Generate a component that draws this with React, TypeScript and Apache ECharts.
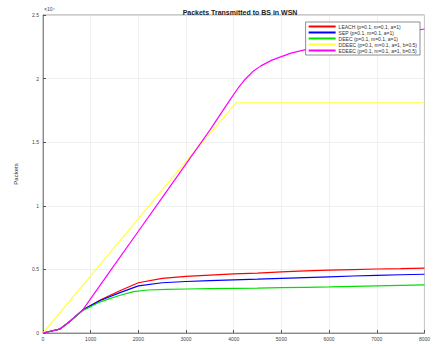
import React, { useEffect, useRef } from "react";
import * as echarts from "echarts";

// Rounds simulated (x) and cumulative packets delivered to the base station (y)
const xTicks = [0, 1000, 2000, 3000, 4000, 5000, 6000, 7000, 8000];
const yTicks = [0, 5000, 10000, 15000, 20000, 25000];

const seriesNames = [
  "LEACH (p=0.1, m=0.1, a=1)",
  "SEP (p=0.1, m=0.1, a=1)",
  "DEEC (p=0.1, m=0.1, a=1)",
  "DDEEC (p=0.1, m=0.1, a=1, b=0.5)",
  "EDEEC (p=0.1, m=0.1, a=1, b=0.5)",
];
const seriesColors = ["#ff0000", "#0000ff", "#00e000", "#ffff40", "#ff00ff"];

const redData: [number, number][] = [
  [0, 0], [350, 300], [560, 900], [830, 1800], [1200, 2600], [1600, 3300],
  [2000, 3950], [2500, 4300], [3000, 4450], [3500, 4550], [4000, 4650],
  [4500, 4700], [5000, 4800], [5500, 4880], [6000, 4940], [6500, 4990],
  [7000, 5030], [7500, 5060], [8000, 5100],
];
const blueData: [number, number][] = [
  [0, 0], [350, 300], [560, 900], [830, 1800], [1200, 2550], [1600, 3150],
  [2000, 3700], [2500, 3950], [3000, 4050], [3500, 4120], [4000, 4180],
  [4500, 4230], [5000, 4300], [5500, 4360], [6000, 4420], [6500, 4480],
  [7000, 4530], [7500, 4580], [8000, 4620],
];
const greenData: [number, number][] = [
  [0, 0], [350, 300], [560, 900], [830, 1750], [1200, 2450], [1600, 2950],
  [1900, 3250], [2200, 3380], [2600, 3430], [3000, 3460], [3500, 3490],
  [4000, 3510], [4500, 3530], [5000, 3560], [5500, 3590], [6000, 3620],
  [6500, 3660], [7000, 3700], [7500, 3740], [8000, 3780],
];
const yellowData: [number, number][] = [
  [0, 0], [1000, 4500], [2000, 9000], [3000, 13500], [4050, 18100], [8000, 18100],
];
const magentaData: [number, number][] = [
  [0, 0], [350, 300], [560, 900], [830, 1800], [1500, 5350], [2000, 8000],
  [2500, 10650], [3000, 13300], [3500, 15950], [3890, 18150], [4100, 19300],
  [4240, 19950], [4400, 20550], [4570, 21000], [4800, 21450], [5200, 22000],
  [5600, 22350], [6000, 22650], [7000, 23300], [8000, 23900],
];

const allData = [redData, blueData, greenData, yellowData, magentaData];
const FONT = "Liberation Sans";

export default function App() {
  const ref = useRef<HTMLDivElement>(null);
  useEffect(() => {
    if (!ref.current) return;
    const chart = echarts.init(ref.current, undefined, { renderer: "svg" });
    chart.setOption({
      animation: false,
      backgroundColor: "#ffffff",
      textStyle: { fontFamily: FONT },
      title: {
        text: "Packets Transmitted to BS in WSN",
        left: 235,
        textAlign: "center",
        top: 4,
        textStyle: { fontSize: 7, fontWeight: "bold", color: "#222", fontFamily: FONT },
      },
      legend: {
        orient: "vertical",
        right: 13,
        top: 22,
        itemWidth: 27,
        itemHeight: 2,
        itemGap: 1,
        padding: [2, 3],
        borderColor: "#444",
        borderWidth: 0.6,
        backgroundColor: "#fff",
        icon: "rect",
        textStyle: { fontSize: 5, color: "#333", fontFamily: FONT, padding: [0, 0, 0, -2] },
        data: seriesNames,
      },
      graphic: [
        {
          type: "text",
          left: 44,
          top: 6,
          style: { text: "×10⁴", fontSize: 5, fill: "#444", fontFamily: FONT },
        },
      ],
      grid: {
        left: 43,
        right: 5,
        top: 15,
        bottom: 11,
        show: true,
        borderColor: "#555",
        borderWidth: 0.6,
      },
      xAxis: {
        type: "value",
        min: 0,
        max: 8000,
        interval: 1000,
        axisLine: { lineStyle: { color: "#555", width: 0.6 } },
        axisTick: { inside: true, length: 3, lineStyle: { color: "#555" } },
        axisLabel: {
          show: true,
          fontSize: 5,
          color: "#444",
          margin: 3,
          formatter: (v: number) => String(v),
        },
        splitLine: { show: true, lineStyle: { color: "#e4e4e4", width: 0.6 } },
      },
      yAxis: {
        type: "value",
        min: 0,
        max: 25000,
        interval: 5000,
        name: "Packets",
        nameLocation: "middle",
        nameGap: 24,
        nameTextStyle: { fontSize: 6, color: "#333" },
        axisLine: { show: true, lineStyle: { color: "#555", width: 0.6 } },
        axisTick: { show: true, inside: true, length: 3, lineStyle: { color: "#555" } },
        axisLabel: {
          fontSize: 5,
          color: "#444",
          margin: 4,
          formatter: (v: number) => String(v / 10000),
        },
        splitLine: { show: true, lineStyle: { color: "#e4e4e4", width: 0.6 } },
      },
      series: allData.map((d, i) => ({
        name: seriesNames[i],
        type: "line",
        data: d,
        showSymbol: false,
        symbol: "none",
        itemStyle: { color: seriesColors[i] },
        lineStyle: { color: seriesColors[i], width: 1.2 },
      })),
    });
    return () => chart.dispose();
  }, []);
  return (
    <div
      ref={ref}
      style={{ position: "fixed", left: 0, top: 0, width: 433, height: 344 }}
    />
  );
}
